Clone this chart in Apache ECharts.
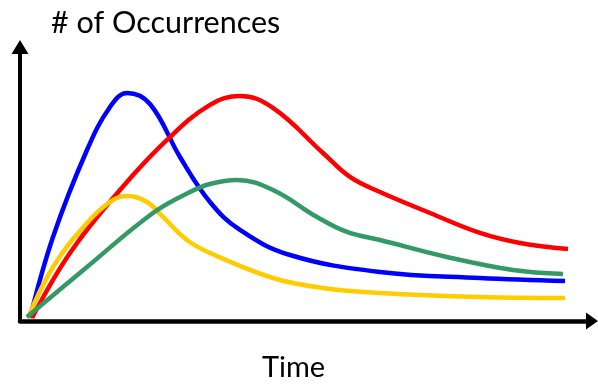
<!DOCTYPE html>
<html>
<head>
<meta charset="utf-8">
<script src="https://cdn.jsdelivr.net/npm/echarts@6/dist/echarts.min.js"></script>
<style>
html,body{margin:0;padding:0;background:#fff;}
#chart{width:598px;height:385px;}
</style>
</head>
<body>
<div id="chart"></div>
<script>
// Data: [time, occurrences] in arbitrary units
const titleText = '# of Occurrences';
const xName = 'Time';
const blueData = [[1.73,1.06],[5.71,29.68],[11.59,60.42],[15.57,75.62],[18.51,80.57],[22.49,76.68],[27.68,57.95],[32.87,42.05],[38.06,32.16],[46.71,23.32],[62.28,17.31],[79.58,15.19],[94.29,14.13]];
const redData = [[2.08,1.06],[8.65,24.03],[17.30,46.29],[25.43,63.96],[32.87,76.33],[38.06,79.51],[43.77,75.27],[52.42,59.36],[57.09,50.88],[62.28,45.58],[70.93,38.16],[79.58,31.10],[86.51,27.56],[94.81,25.44]];
const yellowData = [[1.38,1.06],[5.71,19.08],[11.59,34.63],[16.09,42.76],[18.69,44.17],[21.97,42.05],[24.74,36.75],[28.89,28.62],[32.87,24.03],[43.77,15.19],[52.42,11.66],[62.28,9.89],[79.58,8.48],[94.29,8.13]];
const greenData = [[1.21,1.41],[11.59,19.08],[23.01,38.16],[29.41,45.58],[32.87,48.41],[37.54,49.82],[43.77,46.29],[51.38,36.75],[56.57,31.45],[62.28,28.62],[73.88,22.61],[85.29,18.02],[93.94,16.61]];

const FONT = 'Lato, "DejaVu Sans", sans-serif';
const chart = echarts.init(document.getElementById('chart'), null, {renderer:'canvas'});
function line(name, data, color){
  return {name, type:'line', data, smooth:0.4, showSymbol:false, symbol:'none',
    lineStyle:{color, width:4.5}, z:2};
}
chart.setOption({
  animation:false,
  backgroundColor:'#fff',
  title:{text:titleText, left:46, top:3, textStyle:{fontFamily:FONT, fontSize:30.5, fontWeight:'normal', color:'#000'}},
  graphic:[{type:'text', left:262, top:353, style:{text:xName, fontFamily:FONT, fontSize:29, fill:'#000'}}],
  grid:{left:20, right:6, top:47, bottom:64},
  xAxis:{type:'value', min:0, max:98.96, splitLine:{show:false}, axisTick:{show:false}, axisLabel:{show:false},
    axisLine:{show:true, lineStyle:{color:'#000', width:4.5}, symbol:['none','triangle'], symbolSize:[17,12]}},
  yAxis:{type:'value', min:0, max:96.8, splitLine:{show:false}, axisTick:{show:false}, axisLabel:{show:false},
    axisLine:{show:true, lineStyle:{color:'#000', width:4}, symbol:['none','triangle'], symbolSize:[17,14]}},
  series:[
    line('Blue', blueData, '#0000ff'),
    line('Red', redData, '#ff0000'),
    line('Yellow', yellowData, '#ffcc00'),
    line('Green', greenData, '#339966')
  ]
});
</script>
</body>
</html>
